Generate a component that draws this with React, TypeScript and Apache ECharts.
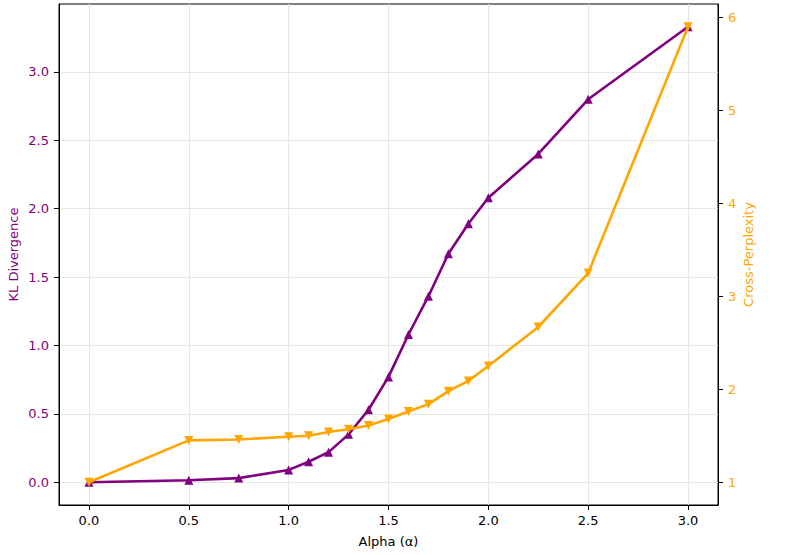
import { useEffect, useRef } from 'react';
import * as echarts from 'echarts';

const alphas = [0, 0.5, 0.75, 1.0, 1.1, 1.2, 1.3, 1.4, 1.5, 1.6, 1.7, 1.8, 1.9, 2.0, 2.25, 2.5, 3.0];
const klDivergence = [0.0, 0.015, 0.03, 0.09, 0.15, 0.22, 0.35, 0.53, 0.77, 1.08, 1.36, 1.67, 1.89, 2.08, 2.4, 2.8, 3.33];
const crossPerplexity = [1.0, 1.45, 1.46, 1.49, 1.5, 1.54, 1.57, 1.61, 1.68, 1.76, 1.84, 1.98, 2.09, 2.25, 2.67, 3.25, 5.9];

const xTicks = [0, 0.5, 1.0, 1.5, 2.0, 2.5, 3.0];
const klTicks = [0, 0.5, 1.0, 1.5, 2.0, 2.5, 3.0];
const cpTicks = [1, 2, 3, 4, 5, 6];

const PURPLE = '#800080';
const ORANGE = '#FFA500';
const FONT = 'DejaVu Sans';

export default function App() {
  const chartRef = useRef<HTMLDivElement>(null);

  useEffect(() => {
    if (!chartRef.current) return;
    const chart = echarts.init(chartRef.current, undefined, { renderer: 'svg' });

    // matplotlib-style 5% margins around the data range
    const pad = (lo: number, hi: number) => [lo - (hi - lo) * 0.05, hi + (hi - lo) * 0.05];
    const [xMin, xMax] = pad(Math.min(...alphas), Math.max(...alphas));
    const [klMin, klMax] = pad(Math.min(...klDivergence), Math.max(...klDivergence));
    const [cpMin, cpMax] = pad(Math.min(...crossPerplexity), Math.max(...crossPerplexity));

    chart.setOption({
      animation: false,
      textStyle: { fontFamily: FONT },
      grid: {
        left: 59, right: 74, top: 4, bottom: 50,
        outerBoundsMode: 'none',
        containLabel: false,
        show: true, borderColor: '#000', borderWidth: 1, backgroundColor: 'transparent',
      },
      xAxis: {
        type: 'value',
        min: xMin,
        max: xMax,
        name: 'Alpha (α)',
        nameLocation: 'middle',
        nameGap: 30,
        nameMoveOverlap: false,
        nameTextStyle: { color: '#000', fontSize: 13, fontFamily: FONT },
        axisLine: { show: true, onZero: false, lineStyle: { color: '#000', width: 1 } },
        axisTick: { show: true, length: 5, lineStyle: { color: '#000' }, customValues: xTicks },
        axisLabel: {
          color: '#000', fontSize: 13, fontFamily: FONT, margin: 9,
          customValues: xTicks,
          formatter: (v: number) => v.toFixed(1),
        },
        splitLine: { show: true, lineStyle: { color: '#e6e6e6', width: 1 } },
      },
      yAxis: [
        {
          type: 'value',
          position: 'left',
          min: klMin,
          max: klMax,
          name: 'KL Divergence',
          nameLocation: 'middle',
          nameGap: 39,
          nameMoveOverlap: false,
          nameTextStyle: { color: PURPLE, fontSize: 13, fontFamily: FONT },
          axisLine: { show: true, onZero: false, lineStyle: { color: '#000', width: 1 } },
          axisTick: { show: true, length: 5, lineStyle: { color: '#000' }, customValues: klTicks },
          axisLabel: {
            color: PURPLE, fontSize: 13, fontFamily: FONT, margin: 10,
            customValues: klTicks,
            formatter: (v: number) => v.toFixed(1),
          },
          splitLine: { show: true, lineStyle: { color: '#e6e6e6', width: 1 } },
        },
        {
          type: 'value',
          position: 'right',
          min: cpMin,
          max: cpMax,
          name: 'Cross-Perplexity',
          nameLocation: 'middle',
          nameGap: 24,
          nameMoveOverlap: false,
          nameTextStyle: { color: ORANGE, fontSize: 13, fontFamily: FONT },
          axisLine: { show: true, onZero: false, lineStyle: { color: '#000', width: 1 } },
          axisTick: { show: true, length: 5, lineStyle: { color: '#000' }, customValues: cpTicks },
          axisLabel: {
            color: ORANGE, fontSize: 13, fontFamily: FONT, margin: 10,
            customValues: cpTicks,
            formatter: (v: number) => String(v),
          },
          splitLine: { show: false },
        },
      ],
      series: [
        {
          name: 'KL Divergence',
          type: 'line',
          yAxisIndex: 0,
          data: alphas.map((a, i) => [a, klDivergence[i]]),
          symbol: 'triangle',
          symbolSize: 9,
          lineStyle: { color: PURPLE, width: 2.6 },
          itemStyle: { color: PURPLE },
          z: 3,
        },
        {
          name: 'Cross-Perplexity',
          type: 'line',
          yAxisIndex: 1,
          data: alphas.map((a, i) => [a, crossPerplexity[i]]),
          symbol: 'triangle',
          symbolRotate: 180,
          symbolSize: 9,
          lineStyle: { color: ORANGE, width: 2.6 },
          itemStyle: { color: ORANGE },
          z: 4,
        },
      ],
    });

    return () => chart.dispose();
  }, []);

  return (
    <div
      ref={chartRef}
      style={{ position: 'absolute', left: 0, top: 0, width: 792, height: 555, background: '#fff' }}
    />
  );
}
